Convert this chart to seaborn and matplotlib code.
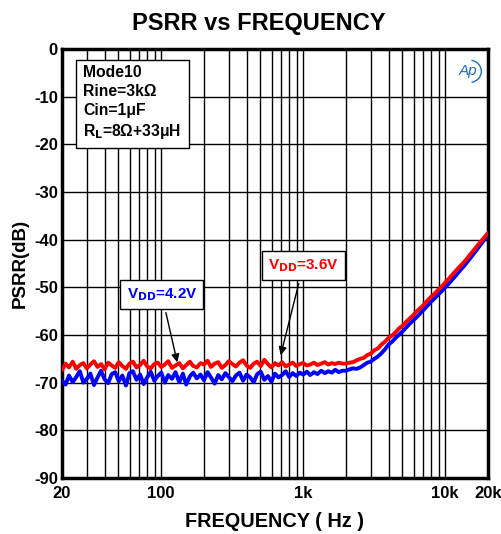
import numpy as np
import pandas as pd
import matplotlib
matplotlib.use('Agg')
import matplotlib.pyplot as plt
import seaborn as sns
from matplotlib.ticker import FixedLocator, NullFormatter
from matplotlib.patches import Arc

# frequency points (Hz), 40 per decade
freq = [20, 21.2, 22.4, 23.8, 25.2, 26.7, 28.3, 29.9, 31.7, 33.6, 35.6, 37.7, 39.9, 42.3,
        44.8, 47.4, 50.2, 53.2, 56.4, 59.7, 63.2, 67.0, 71.0, 75.2, 79.6, 84.3, 89.3, 94.6,
        100, 106, 112, 119, 126, 134, 142, 150, 159, 168, 178, 189, 200, 212, 224, 238,
        252, 267, 283, 299, 317, 336, 356, 377, 399, 423, 448, 474, 502, 532, 564, 597,
        632, 670, 710, 752, 796, 843, 893, 946,
        1000, 1060, 1120, 1190, 1260, 1340, 1420, 1500, 1590, 1680, 1780, 1890, 2000, 2120,
        2240, 2380, 2520, 2670, 2830, 2990, 3170, 3360, 3560, 3770, 3990, 4230, 4480, 4740,
        5020, 5320, 5640, 5970, 6320, 6700, 7100, 7520, 7960, 8430, 8930, 9460,
        10000, 10600, 11200, 11900, 12600, 13400, 14200, 15000, 15900, 16800, 17800, 18900,
        20000]

# VDD = 3.6V (red)
psrr_36 = [-67.4, -66.0, -66.8, -65.6, -67.1, -66.3, -65.9, -67.0, -66.2, -65.5,
           -66.7, -66.1, -67.2, -65.8, -66.4, -66.9, -65.7, -66.5, -67.1, -66.0,
           -65.6, -66.8, -66.3, -65.4, -66.6, -67.0, -66.1, -65.8, -66.7, -66.2,
           -65.5, -66.9, -66.4, -65.9, -67.0, -66.3, -65.6, -66.5, -66.8, -65.9,
           -66.2, -65.4, -66.7, -66.0, -65.7, -66.9, -66.3, -65.5, -66.1, -66.6,
           -65.8, -65.3, -66.4, -66.9, -66.0, -65.6, -66.5, -65.2, -66.1, -66.8,
           -65.9, -66.4, -65.7, -66.6, -66.2, -65.8, -66.5, -66.1, -65.9, -66.4,
           -66.2, -65.8, -66.3, -66.0, -65.7, -66.2, -65.9, -66.1, -65.8, -66.0,
           -66.0, -65.8, -65.7, -65.3, -65.0, -64.8, -64.2, -63.9, -63.2, -62.8,
           -62.0, -61.4, -60.6, -60.1, -59.4, -58.6, -58.0, -57.2, -56.5, -55.8,
           -55.0, -54.3, -53.6, -52.7, -52.0, -51.3, -50.5, -49.8, -49.0, -48.2,
           -47.4, -46.5, -45.7, -44.9, -44.0, -43.1, -42.2, -41.3, -40.4, -39.5, -38.6]

# VDD = 4.2V (blue)
psrr_42 = [-69.6, -70.4, -68.5, -69.9, -68.8, -67.6, -70.0, -69.2, -68.1, -70.5,
           -68.9, -67.5, -69.3, -70.1, -68.2, -67.8, -69.7, -68.5, -70.6, -68.0,
           -67.6, -69.4, -68.3, -70.3, -68.9, -67.7, -69.6, -68.6, -67.9, -70.0,
           -68.4, -69.2, -67.8, -69.9, -68.1, -70.4, -68.7, -67.9, -69.1, -68.3,
           -69.5, -67.8, -68.9, -70.2, -68.4, -69.3, -68.0, -68.8, -69.7, -68.5,
           -67.9, -69.6, -68.3, -68.9, -69.9, -68.2, -67.7, -69.4, -68.6, -69.8,
           -68.1, -68.9, -68.4, -67.6, -68.8, -68.0, -68.6, -67.9, -68.3, -67.7,
           -68.4, -67.8, -68.2, -67.5, -68.0, -67.6, -67.9, -67.3, -67.8, -67.5,
           -67.5, -67.2, -67.0, -67.1, -66.8, -66.3, -65.8, -65.6, -65.0, -64.5,
           -63.8, -63.0, -62.0, -61.4, -60.6, -59.9, -59.2, -58.4, -57.6, -56.9,
           -56.2, -55.4, -54.6, -53.8, -53.0, -52.3, -51.5, -50.8, -50.0, -49.2,
           -48.4, -47.5, -46.6, -45.7, -44.8, -43.9, -42.9, -42.0, -41.0, -40.0, -39.0]

xticks = [20, 100, 1000, 10000, 20000]
xticklabels = ['20', '100', '1k', '10k', '20k']
yticks = [0, -10, -20, -30, -40, -50, -60, -70, -80, -90]
minor_x = [30, 40, 50, 60, 70, 80, 90, 200, 300, 400, 500, 600, 700, 800, 900,
           2000, 3000, 4000, 5000, 6000, 7000, 8000, 9000]

df = pd.concat([
    pd.DataFrame({'freq': freq, 'psrr': psrr_36, 'vdd': '3.6V'}),
    pd.DataFrame({'freq': freq, 'psrr': psrr_42, 'vdd': '4.2V'}),
])

sns.set_style('white')
plt.rcParams['font.family'] = ['Liberation Sans', 'DejaVu Sans']
plt.rcParams['font.weight'] = 'bold'
plt.rcParams['text.color'] = 'black'
plt.rcParams['axes.labelcolor'] = 'black'
plt.rcParams['xtick.color'] = 'black'
plt.rcParams['ytick.color'] = 'black'
plt.rcParams['axes.unicode_minus'] = False

fig = plt.figure(figsize=(5.02, 5.34), dpi=100)
ax = fig.add_axes([0.1235, 0.1049, 0.8485, 0.8033])

sns.lineplot(data=df, x='freq', y='psrr', hue='vdd', hue_order=['4.2V', '3.6V'],
             palette={'3.6V': '#ff0000', '4.2V': '#0000ff'}, linewidth=2.8,
             legend=False, ax=ax, zorder=3)

ax.set_xscale('log')
ax.set_xlim(20, 20000)
ax.set_ylim(-90, 0)
ax.xaxis.set_major_locator(FixedLocator(xticks))
ax.xaxis.set_minor_locator(FixedLocator(minor_x))
ax.xaxis.set_minor_formatter(NullFormatter())
ax.set_xticks(xticks)
ax.set_xticklabels(xticklabels)
ax.set_yticks(yticks)
ax.grid(True, which='both', axis='x', color='black', linewidth=1)
ax.grid(True, which='major', axis='y', color='black', linewidth=1)
ax.tick_params(which='both', length=0, labelsize=12)
ax.tick_params(axis='x', pad=6)
ax.tick_params(axis='y', pad=3)
for lbl in ax.get_xticklabels() + ax.get_yticklabels():
    lbl.set_fontweight('bold')
for s in ax.spines.values():
    s.set_linewidth(2.5)
    s.set_color('black')
    s.set_visible(True)

ax.set_xlabel('FREQUENCY ( Hz )', fontsize=14.3, fontweight='bold', labelpad=8)
ax.set_ylabel('PSRR(dB)', fontsize=13.5, fontweight='bold', labelpad=4)
fig.text(0.515, 0.956, 'PSRR vs FREQUENCY', ha='center', va='center',
         fontsize=17, fontweight='bold')

ax.text(0.05, 0.962, 'Mode10\nRine=3k\u03a9\nCin=1\u03bcF\nR$_\\mathbf{L}$=8\u03a9+33\u03bcH',
        transform=ax.transAxes, ha='left', va='top', fontsize=11.3, fontweight='bold',
        linespacing=1.3, zorder=5,
        bbox=dict(boxstyle='square,pad=0.45', fc='white', ec='black', lw=1))

ax.annotate('V$_\\mathbf{DD}$=3.6V', xy=(686, -64.8), xytext=(1000, -45.5),
            color='#ff0000', fontsize=11, fontweight='bold', ha='center', va='center',
            zorder=5,
            bbox=dict(boxstyle='square,pad=0.4', fc='white', ec='black', lw=1),
            arrowprops=dict(arrowstyle='-|>', color='black', lw=1, mutation_scale=12))
ax.annotate('V$_\\mathbf{DD}$=4.2V', xy=(131, -66.3), xytext=(101, -51.6),
            color='#0000ff', fontsize=11, fontweight='bold', ha='center', va='center',
            zorder=5,
            bbox=dict(boxstyle='square,pad=0.4', fc='white', ec='black', lw=1),
            arrowprops=dict(arrowstyle='-|>', color='black', lw=1, mutation_scale=12))

ax.text(0.954, 0.948, 'Ap', transform=ax.transAxes, ha='center', va='center',
        fontsize=11, fontstyle='italic', fontweight='normal', color='#1a6fc0', zorder=5)
ax.add_patch(Arc((0.957, 0.948), 0.055, 0.052, theta1=-80, theta2=80,
                 transform=ax.transAxes, color='#1a6fc0', lw=1, zorder=5))

fig.savefig('out.png', dpi=100, facecolor='white')
